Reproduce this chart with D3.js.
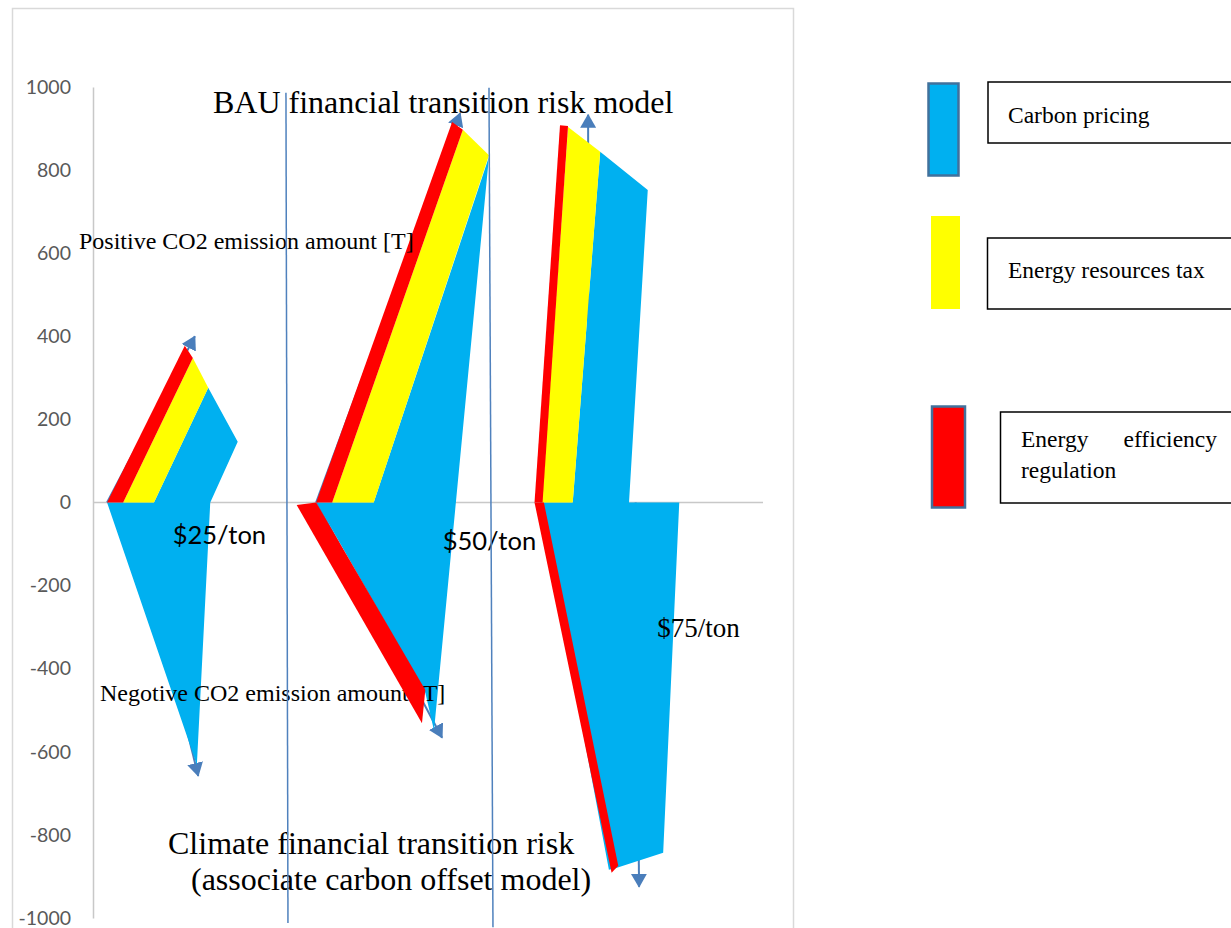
<!DOCTYPE html>
<html>
<head>
<meta charset="utf-8">
<script src="https://cdn.jsdelivr.net/npm/d3@7"></script>
<style>
  body { margin: 0; background: #fff; }
  svg { display: block; }
</style>
</head>
<body>
<script>
// canvas
var width = 1231,
	height = 928;

// y ticks of the value axis
var yTicks = [-1000, -800, -600, -400, -200, 0, 200, 400, 600, 800, 1000];

// price scenarios
var priceLabels = ["$25/ton", "$50/ton", "$75/ton"];
var pricePoints = [[11.9, -100], [52.2, -114], [84.2, -324]];

// carbon pricing (blue) areas, one per scenario : [x, CO2]
var carbonPricing = [
	[[9.1, 0], [17.2, 276], [21.6, 146], [17.5, 0], [15.5, -632], [2.1, 0]],
	[[33.4, 0], [41.9, 0], [59.1, 832], [50.9, -549], [49.6, -458]],
	[[71.6, 0], [75.7, 844], [82.8, 752], [80.0, 0], [87.5, 0], [85.1, -843], [78.2, -879], [77.0, -884], [66.7, 0]]
];

// energy resources tax (yellow) bands
var resourcesTax = [
	[[4.5, 0], [14.9, 348], [17.2, 276], [9.1, 0]],
	[[35.7, 0], [55.2, 897], [59.1, 836], [41.9, 0]],
	[[67.0, 0], [70.9, 904], [75.7, 844], [71.6, 0]]
];

// energy efficiency regulation (red) bands
var efficiencyRegulation = [
	[[2.1, 0], [13.7, 377], [14.9, 348], [4.5, 0]],
	[[33.3, 0], [53.6, 916], [55.2, 897], [35.7, 0]],
	[[30.4, -6], [33.3, 0], [49.6, -451], [49.1, -531]],
	[[65.9, 0], [69.7, 908], [70.9, 906], [67.1, 0]],
	[[65.9, 0], [67.3, 0], [78.4, -874], [77.4, -891]]
];

// arrows (from, to)
var arrows = [
	[[2.1, 0], [15.2, 400]],
	[[13.0, -480], [15.7, -658]],
	[[33.3, 0], [54.8, 937]],
	[[33.4, 0], [52.1, -566]],
	[[73.9, 0], [73.9, 933]],
	[[81.0, 0], [81.5, -925]]
];

// separator lines between scenarios
var separators = [
	[[28.8, 986], [29.1, -1012]],
	[[59.1, 998], [59.7, -1022]]
];

var legendItems = ["Carbon pricing", "Energy resources tax", "Energy efficiency regulation"];

var BLUE = "#00b0f0", YELLOW = "#ffff00", RED = "#ff0000", ARROW = "#4a7ebb";
var SERIF = "'Liberation Serif', 'Times New Roman', serif";
var SANS = "Lato, 'Open Sans', sans-serif";

var svg = d3.select("body").append("svg")
	.attr("width", width)
	.attr("height", height);

svg.append("rect").attr("width", width).attr("height", height).attr("fill", "#fff");

// chart frame
svg.append("rect")
	.attr("x", 12.5).attr("y", 8.5)
	.attr("width", 781).attr("height", 960)
	.attr("fill", "none")
	.attr("stroke", "#d9d9d9")
	.attr("stroke-width", 1.5);

var xScale = d3.scaleLinear().domain([0, 100]).range([93, 763]);
var yScale = d3.scaleLinear().domain([-1000, 1000]).range([918, 87]);

var line = d3.line()
	.x(function(d) { return xScale(d[0]); })
	.y(function(d) { return yScale(d[1]); });

// y axis (plain hyphen minus like the original)
var yAxis = d3.axisLeft(yScale)
	.tickValues(yTicks)
	.tickSize(0)
	.tickPadding(22)
	.tickFormat(function(d) { return String(d); });
var gy = svg.append("g")
	.attr("transform", "translate(" + xScale(0) + ",0)")
	.call(yAxis);
gy.select(".domain").attr("stroke", "#c8c8c8").attr("stroke-width", 1.5);
gy.selectAll("text")
	.attr("fill", "#595959")
	.style("font-family", SANS)
	.style("font-size", "19.5px");

// zero line
svg.append("line")
	.attr("x1", xScale(0)).attr("x2", xScale(100))
	.attr("y1", yScale(0)).attr("y2", yScale(0))
	.attr("stroke", "#c8c8c8")
	.attr("stroke-width", 1.5);

// arrow marker
svg.append("defs").append("marker")
	.attr("id", "head")
	.attr("viewBox", "0 0 14 16")
	.attr("markerUnits", "userSpaceOnUse")
	.attr("markerWidth", 14).attr("markerHeight", 16)
	.attr("refX", 13).attr("refY", 8)
	.attr("orient", "auto")
	.append("path")
	.attr("d", "M0,0 L14,8 L0,16 Z")
	.attr("fill", ARROW);

svg.selectAll(".arrow")
	.data(arrows)
	.enter()
	.append("path")
	.attr("class", "arrow")
	.attr("d", line)
	.attr("stroke", ARROW)
	.attr("stroke-width", 2)
	.attr("fill", "none")
	.attr("marker-end", "url(#head)");

// blue areas
svg.selectAll(".carbon")
	.data(carbonPricing)
	.enter()
	.append("path")
	.attr("class", "carbon")
	.attr("d", function(d) { return line(d) + "Z"; })
	.attr("fill", BLUE);

// negative label sits above blue, under the red band
svg.append("text")
	.attr("x", 100).attr("y", 701)
	.style("font-family", SERIF).style("font-size", "24px")
	.text("Negotive CO2 emission amount [T]");

svg.selectAll(".tax")
	.data(resourcesTax)
	.enter()
	.append("path")
	.attr("class", "tax")
	.attr("d", function(d) { return line(d) + "Z"; })
	.attr("fill", YELLOW);

svg.selectAll(".eff")
	.data(efficiencyRegulation)
	.enter()
	.append("path")
	.attr("class", "eff")
	.attr("d", function(d) { return line(d) + "Z"; })
	.attr("fill", RED);

// price labels
svg.selectAll(".price")
	.data(priceLabels)
	.enter()
	.append("text")
	.attr("class", "price")
	.attr("x", function(d, i) { return xScale(pricePoints[i][0]); })
	.attr("y", function(d, i) { return yScale(pricePoints[i][1]); })
	.style("font-family", function(d, i) { return i == 2 ? SERIF : SANS; })
	.style("font-size", function(d, i) { return i == 2 ? "27px" : "25.5px"; })
	.text(function(d) { return d; });

// titles
svg.append("text")
	.attr("x", 213).attr("y", 113)
	.style("font-family", SERIF).style("font-size", "32px")
	.text("BAU financial transition risk model");
svg.append("text")
	.attr("x", 79).attr("y", 249)
	.style("font-family", SERIF).style("font-size", "24px")
	.text("Positive CO2 emission amount [T]");
svg.append("text")
	.attr("x", 168).attr("y", 854)
	.style("font-family", SERIF).style("font-size", "32px")
	.text("Climate financial transition risk");
svg.append("text")
	.attr("x", 191).attr("y", 890)
	.style("font-family", SERIF).style("font-size", "32px")
	.text("(associate carbon offset model)");

// separators
svg.selectAll(".sep")
	.data(separators)
	.enter()
	.append("path")
	.attr("class", "sep")
	.attr("d", line)
	.attr("stroke", "#4f81bd")
	.attr("stroke-width", 1.5)
	.attr("fill", "none");

// legend
var swatches = [
	{x: 928.5, y: 83.5, w: 30, h: 92, fill: BLUE, stroke: "#41719c"},
	{x: 931, y: 216, w: 29, h: 93, fill: YELLOW, stroke: "none"},
	{x: 932, y: 406.5, w: 33, h: 101, fill: RED, stroke: "#41719c"}
];
var boxes = [
	{x: 988, y: 82, h: 61},
	{x: 987.5, y: 238, h: 71},
	{x: 1000.5, y: 412, h: 91}
];
var legend = svg.append("g");
legend.selectAll(".sw")
	.data(swatches)
	.enter()
	.append("rect")
	.attr("x", function(d) { return d.x; })
	.attr("y", function(d) { return d.y; })
	.attr("width", function(d) { return d.w; })
	.attr("height", function(d) { return d.h; })
	.attr("fill", function(d) { return d.fill; })
	.attr("stroke", function(d) { return d.stroke; })
	.attr("stroke-width", 2.5);
legend.selectAll(".box")
	.data(boxes)
	.enter()
	.append("rect")
	.attr("x", function(d) { return d.x; })
	.attr("y", function(d) { return d.y; })
	.attr("width", 300)
	.attr("height", function(d) { return d.h; })
	.attr("fill", "none")
	.attr("stroke", "#000")
	.attr("stroke-width", 1.5);

legend.append("text").attr("x", 1008).attr("y", 123)
	.style("font-family", SERIF).style("font-size", "23.5px")
	.text(legendItems[0]);
legend.append("text").attr("x", 1008).attr("y", 278)
	.style("font-family", SERIF).style("font-size", "23.5px")
	.text(legendItems[1]);
// justified two-line label
var words = legendItems[2].split(" ");
legend.append("text").attr("x", 1021).attr("y", 447)
	.style("font-family", SERIF).style("font-size", "23.5px")
	.text(words[0]);
legend.append("text").attr("x", 1217).attr("y", 447)
	.attr("text-anchor", "end")
	.style("font-family", SERIF).style("font-size", "23.5px")
	.text(words[1]);
legend.append("text").attr("x", 1021).attr("y", 478)
	.style("font-family", SERIF).style("font-size", "23.5px")
	.text(words[2]);
</script>
</body>
</html>
